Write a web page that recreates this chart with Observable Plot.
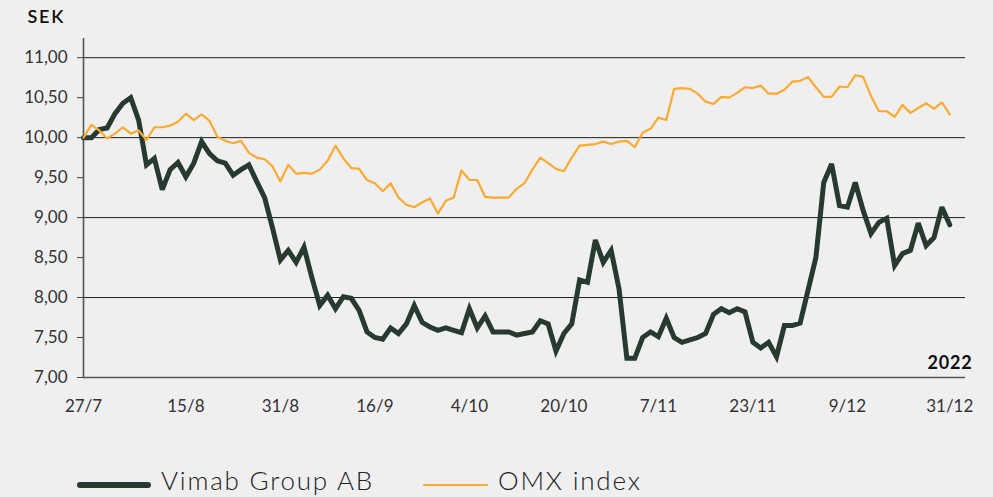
<!DOCTYPE html>
<html>
<head>
<meta charset="utf-8">
<script src="https://cdn.jsdelivr.net/npm/d3@7"></script>
<script src="https://cdn.jsdelivr.net/npm/@observablehq/plot@0.6"></script>
<style>
  html, body { margin: 0; padding: 0; background: #efefef; }
  #wrap { width: 993px; height: 497px; overflow: hidden; background: #efefef; }
  svg { display: block; }
</style>
</head>
<body>
<div id="wrap"></div>
<script>
// Trading-day index 0 = 27/7/2022 ... 110 = 31/12/2022
const vimab = [
  10.00, 10.00, 10.10, 10.12, 10.30, 10.43, 10.50, 10.22, 9.66, 9.74,
  9.35, 9.60, 9.69, 9.51, 9.68, 9.95, 9.80, 9.71, 9.68, 9.53,
  9.60, 9.66, 9.45, 9.25, 8.87, 8.47, 8.59, 8.44, 8.63, 8.25,
  7.90, 8.03, 7.86, 8.01, 7.99, 7.84, 7.57, 7.50, 7.48, 7.62,
  7.55, 7.67, 7.90, 7.69, 7.63, 7.59, 7.62, 7.59, 7.56, 7.86,
  7.62, 7.77, 7.57, 7.57, 7.57, 7.53, 7.55, 7.57, 7.71, 7.67,
  7.33, 7.55, 7.67, 8.22, 8.19, 8.72, 8.44, 8.59, 8.11, 7.24,
  7.24, 7.50, 7.57, 7.51, 7.74, 7.50, 7.44, 7.47, 7.50, 7.55,
  7.79, 7.86, 7.81, 7.86, 7.82, 7.44, 7.37, 7.44, 7.26, 7.65,
  7.65, 7.68, 8.09, 8.50, 9.44, 9.67, 9.15, 9.13, 9.44, 9.09,
  8.80, 8.94, 8.99, 8.40, 8.55, 8.59, 8.93, 8.65, 8.75, 9.13,
  8.91
];
const omx = [
  10.00, 10.16, 10.09, 9.99, 10.05, 10.13, 10.05, 10.09, 9.97, 10.13,
  10.13, 10.15, 10.20, 10.30, 10.22, 10.29, 10.21, 10.01, 9.96, 9.93,
  9.96, 9.81, 9.75, 9.73, 9.64, 9.45, 9.66, 9.55, 9.56, 9.55,
  9.60, 9.71, 9.90, 9.74, 9.62, 9.61, 9.47, 9.43, 9.33, 9.43,
  9.25, 9.16, 9.13, 9.19, 9.24, 9.05, 9.21, 9.25, 9.59, 9.47,
  9.47, 9.26, 9.25, 9.25, 9.25, 9.36, 9.43, 9.60, 9.75, 9.68,
  9.61, 9.58, 9.75, 9.90, 9.91, 9.92, 9.95, 9.92, 9.95, 9.96,
  9.88, 10.06, 10.11, 10.25, 10.22, 10.61, 10.62, 10.61, 10.55, 10.45,
  10.42, 10.51, 10.50, 10.56, 10.63, 10.62, 10.65, 10.55, 10.55, 10.60,
  10.70, 10.71, 10.76, 10.63, 10.51, 10.51, 10.64, 10.63, 10.78, 10.76,
  10.52, 10.33, 10.33, 10.26, 10.41, 10.31, 10.37, 10.43, 10.36, 10.44,
  10.29
];
const xTickIndex = [0, 13, 25, 37, 49, 61, 73, 85, 97, 110];
const xTickLabels = ["27/7", "15/8", "31/8", "16/9", "4/10", "20/10", "7/11", "23/11", "9/12", "31/12"];
const yTicks = [7, 7.5, 8, 8.5, 9, 9.5, 10, 10.5, 11];
const gridValues = [8, 9, 10, 11];
const seriesNames = ["Vimab Group AB", "OMX index"];
const colors = ["#273a30", "#fbaa2f"];
const unitLabel = "SEK";
const yearLabel = "2022";

const rows = vimab.map((v, i) => ({i, vimab: v, omx: omx[i]}));
const fmt = d => d.toFixed(2).replace(".", ",");
const FONT = "Lato, 'Open Sans', sans-serif";

const chart = Plot.plot({
  width: 993,
  height: 450,
  marginLeft: 83,
  marginRight: 28,
  marginTop: 38,
  marginBottom: 73,
  style: {background: "transparent", fontFamily: FONT, fontSize: "17px", color: "#333", overflow: "visible"},
  x: {domain: [0, 112], axis: null},
  y: {domain: [7, 11.24], axis: null},
  marks: [
    Plot.ruleY(gridValues, {stroke: "#1c1c1c", strokeWidth: 1}),
    Plot.ruleY([7], {stroke: "#555", strokeWidth: 1.6}),
    Plot.ruleX([0], {stroke: "#555", strokeWidth: 1.6}),
    Plot.axisY(yTicks, {tickSize: 6, tickPadding: 10, tickFormat: fmt, stroke: "#444", fill: "#333", fontSize: 17, label: null}),
    Plot.axisX(xTickIndex, {tickSize: 0, tickPadding: 22, tickFormat: d => xTickLabels[xTickIndex.indexOf(d)], fill: "#333", fontSize: 17, label: null}),
    Plot.line(rows, {x: "i", y: "vimab", stroke: colors[0], strokeWidth: 5, strokeLinejoin: "miter", strokeMiterlimit: 3}),
    Plot.line(rows, {x: "i", y: "omx", stroke: colors[1], strokeWidth: 2.2}),
    Plot.text([unitLabel], {frameAnchor: "top-left", textAnchor: "start", lineAnchor: "middle", dx: -56, dy: -21, fontSize: 18, fontWeight: 600, fill: "#111"}),
    Plot.text([yearLabel], {frameAnchor: "bottom-right", textAnchor: "end", lineAnchor: "middle", dx: 7, dy: -14, fontSize: 18, fontWeight: 700, fill: "#111"})
  ]
});
document.getElementById("wrap").appendChild(chart);
// widen the two annotation texts slightly like the reference's geometric face
d3.select(chart).selectAll("text").filter(function() { return this.textContent === unitLabel || this.textContent === yearLabel; })
  .style("letter-spacing", function() { return this.textContent === unitLabel ? "1.8px" : "0.8px"; });

// Legend below the chart
const leg = d3.select("#wrap").append("svg").attr("width", 993).attr("height", 47)
  .style("font-family", FONT);
const items = [
  {name: seriesNames[0], color: colors[0], w: 6, x1: 80, x2: 148, tx: 161},
  {name: seriesNames[1], color: colors[1], w: 2.2, x1: 424, x2: 487, tx: 498}
];
const g = leg.selectAll("g").data(items).join("g");
g.append("line").attr("x1", d => d.x1).attr("x2", d => d.x2).attr("y1", 35).attr("y2", 35)
  .attr("stroke", d => d.color).attr("stroke-width", d => d.w).attr("stroke-linecap", "round");
g.append("text").attr("x", d => d.tx).attr("y", 40).attr("font-size", 26).attr("font-weight", 300)
  .style("letter-spacing", "1.8px")
  .attr("fill", "#222").text(d => d.name);
</script>
</body>
</html>
